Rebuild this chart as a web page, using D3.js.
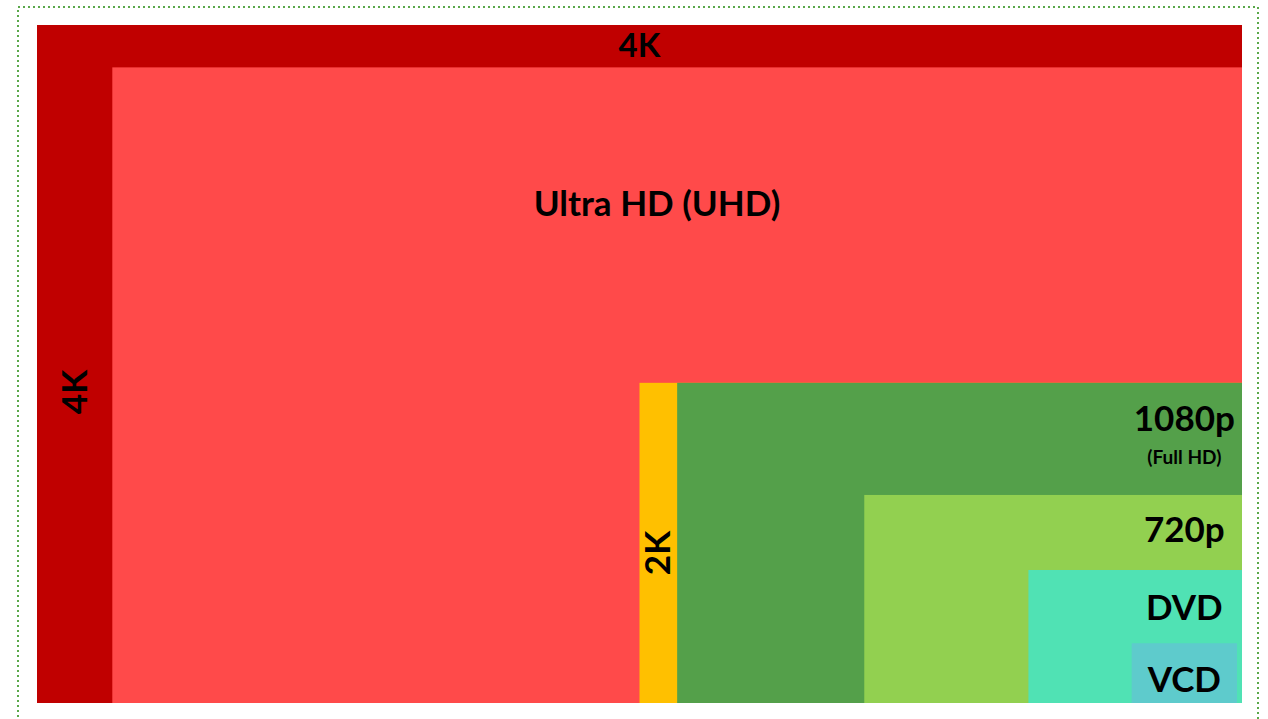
<!DOCTYPE html>
<html>
<head>
<meta charset="utf-8">
<script src="https://cdn.jsdelivr.net/npm/d3@7"></script>
<style>
  html, body { margin: 0; padding: 0; background: #fff; }
  svg { display: block; }
  .lbl { font-family: Lato, "Open Sans", sans-serif; font-weight: bold; fill: #000; }
</style>
</head>
<body>
<svg id="chart" width="1268" height="719"></svg>
<script>
// resolutions, largest first (drawn)
var names = ["4K", "Ultra HD (UHD)", "2K", "1080p", "720p", "DVD", "VCD"];
var widths = [4096, 3840, 2048, 1920, 1284, 726, 358];
var heights = [2304, 2160, 1088, 1088, 707, 452, 203];
var rightInset = [0, 0, 0, 0, 0, 0, 17];
var colors = ["#c00000", "#ff4a4a", "#ffc000", "#54a04a", "#92d050", "#50e2b4", "#5ecbcc"];
var subLabel = "(Full HD)";

var svg = d3.select("#chart");
var margin = {left: 37, right: 26, top: 25, bottom: 16};
var W = 1268, H = 719;

// distances are measured from the bottom-right corner
var x = d3.scaleLinear().domain([0, d3.max(widths)]).range([W - margin.right, margin.left]);
var y = d3.scaleLinear().domain([0, d3.max(heights)]).range([H - margin.bottom, margin.top]);

// dotted frame
svg.append("rect")
  .attr("x", 18).attr("y", 7)
  .attr("width", 1240).attr("height", 740)
  .attr("fill", "none")
  .attr("stroke", "#5aa84a")
  .attr("stroke-width", 2)
  .attr("shape-rendering", "crispEdges")
  .attr("stroke-dasharray", "2,3");

var g = svg.append("g");

g.selectAll("rect.res")
  .data(names)
  .enter().append("rect")
  .attr("class", "res")
  .attr("x", function (d, i) { return x(widths[i] + rightInset[i]); })
  .attr("y", function (d, i) { return y(heights[i]); })
  .attr("width", function (d, i) { return x(rightInset[i]) - x(widths[i] + rightInset[i]); })
  .attr("height", function (d, i) { return y(0) - y(heights[i]); })
  .attr("fill", function (d, i) { return colors[i]; });

var fs = 35;
// center x shared by the small-resolution labels (centre of VCD box)
var cx = (x(rightInset[6]) + x(widths[6] + rightInset[6])) / 2;

function label(text, px, py, size, rot) {
  var t = g.append("text")
    .attr("class", "lbl")
    .attr("text-anchor", "middle")
    .attr("font-size", size)
    .text(text);
  if (rot)
    t.attr("transform", "translate(" + [px, py] + ")rotate(-90)");
  else
    t.attr("x", px).attr("y", py);
  return t;
}

// 4K top band
label(names[0], (x(widths[0]) + x(0)) / 2, (y(heights[0]) + y(heights[1])) / 2 + 11, 33);
// 4K left band (rotated)
label(names[0], (x(widths[0]) + x(widths[1])) / 2 + 12, 392, fs, true);
// UHD
label(names[1], 657, 216, fs);
// 2K (rotated)
label(names[2], (x(widths[2]) + x(widths[3])) / 2 + 12, 553, fs, true);
// 1080p + sub label
label(names[3], cx, y(heights[3]) + 48, fs);
label(subLabel, cx, y(heights[3]) + 81, 19);
// 720p, DVD, VCD
label(names[4], cx, y(heights[4]) + 47, fs);
label(names[5], cx, y(heights[5]) + 50, fs);
label(names[6], cx, y(heights[6]) + 49, fs);
</script>
</body>
</html>
